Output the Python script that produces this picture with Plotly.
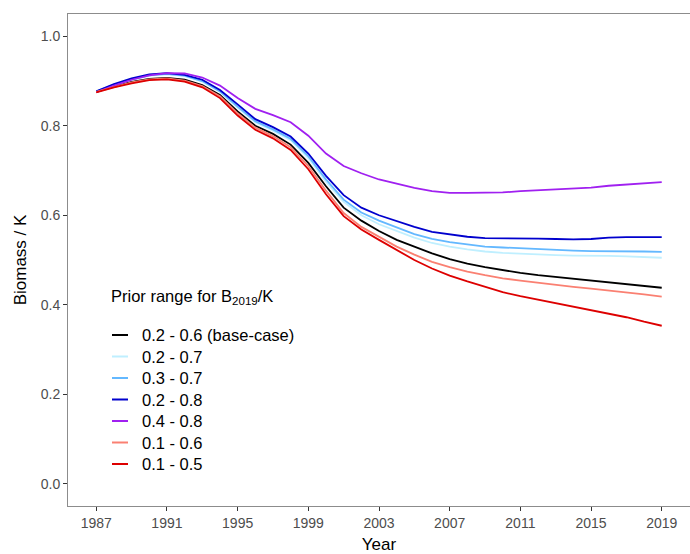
import plotly.graph_objects as go

years = list(range(1987, 2020))

base_02_06 = [.876, .888, .898, .905, .907, .903, .891, .869, .832, .800, .782, .758, .717, .665, .617, .588,
              .565, .545, .530, .515, .502, .492, .484, .477, .471, .466, .462, .458, .455, .451, .447, .442, .438]
s_02_07 = [.877, .891, .903, .912, .915, .911, .899, .876, .841, .808, .789, .768, .728, .675, .630, .600,
           .580, .565, .550, .538, .530, .524, .519, .516, .514, .512, .511, .510, .510, .509, .508, .506, .505]
s_03_07 = [.877, .892, .904, .913, .916, .912, .900, .877, .843, .810, .792, .771, .732, .680, .635, .606,
           .588, .573, .558, .547, .540, .535, .530, .528, .526, .524, .522, .521, .520, .520, .520, .519, .518]
s_02_08 = [.877, .893, .906, .915, .918, .914, .903, .880, .848, .815, .797, .776, .738, .688, .645, .617,
           .600, .587, .574, .563, .557, .552, .549, .549, .549, .548, .547, .546, .547, .550, .551, .551, .551]
s_04_08 = [.875, .890, .903, .913, .918, .917, .908, .890, .862, .838, .824, .808, .778, .738, .710, .694,
           .680, .670, .661, .654, .650, .650, .650, .651, .654, .656, .658, .659, .662, .666, .669, .671, .674]
s_01_06 = [.876, .887, .897, .904, .906, .901, .889, .866, .828, .796, .777, .752, .710, .655, .605, .574,
           .552, .530, .512, .496, .484, .474, .466, .459, .454, .449, .444, .440, .436, .432, .428, .423, .418]
s_01_05 = [.875, .886, .895, .902, .904, .899, .886, .862, .823, .791, .772, .746, .703, .647, .598, .568,
           .545, .522, .500, .481, .465, .452, .440, .428, .419, .411, .403, .395, .387, .380, .372, .362, .353]

series_names = ["0.2 - 0.6 (base-case)", "0.2 - 0.7", "0.3 - 0.7", "0.2 - 0.8", "0.4 - 0.8", "0.1 - 0.6", "0.1 - 0.5"]
series_values = [base_02_06, s_02_07, s_03_07, s_02_08, s_04_08, s_01_06, s_01_05]
series_colors = ["#000000", "#BFEFFF", "#63B8FF", "#0000CD", "#A020F0", "#FA8072", "#DD0000"]

legend_title = "Prior range for B<sub>2019</sub>/K"

x_ticks = [1987, 1991, 1995, 1999, 2003, 2007, 2011, 2015, 2019]
y_ticks = [0.0, 0.2, 0.4, 0.6, 0.8, 1.0]

# layout geometry (pixels)
W, H = 690, 554
ML, MR, MT, MB = 68, 0, 14, 48
PW, PH = W - ML - MR, H - MT - MB


def px_x(p):
    return (p - ML) / PW


def px_y(p):
    return (H - MB - p) / PH


fig = go.Figure()
for name, vals, col in zip(series_names, series_values, series_colors):
    fig.add_trace(go.Scatter(x=years, y=vals, mode="lines", name=name,
                             line=dict(color=col, width=1.8), showlegend=False))

# hand-placed legend (matches the reference's tight spacing)
annotations = [dict(text=legend_title, xref="paper", yref="paper",
                    x=px_x(109), y=px_y(297), xanchor="left", yanchor="middle",
                    showarrow=False, font=dict(size=16.5, color="#000000"))]
shapes = []
row0, step = 335, 21.5
for i, (name, col) in enumerate(zip(series_names, series_colors)):
    yy = px_y(row0 + i * step)
    shapes.append(dict(type="line", xref="paper", yref="paper",
                       x0=px_x(112), x1=px_x(128), y0=yy, y1=yy,
                       line=dict(color=col, width=2)))
    annotations.append(dict(text=name, xref="paper", yref="paper",
                            x=px_x(140), y=yy, xanchor="left", yanchor="middle",
                            showarrow=False, font=dict(size=16.5, color="#000000")))

fig.update_layout(
    width=W, height=H,
    margin=dict(l=ML, r=MR, t=MT, b=MB),
    paper_bgcolor="white", plot_bgcolor="white",
    font=dict(family="Liberation Sans, Arial, sans-serif", color="#000000"),
    showlegend=False,
    annotations=annotations,
    shapes=shapes,
    xaxis=dict(
        range=[1985.4, 2020.6], tickvals=x_ticks, ticktext=[str(v) for v in x_ticks],
        showgrid=False, zeroline=False, showline=True, mirror=True, linecolor="#8C8C8C", linewidth=1,
        ticks="outside", ticklen=4, tickcolor="#333333",
        tickfont=dict(size=14, color="#4D4D4D"),
        title=dict(text="Year", font=dict(size=17), standoff=9),
    ),
    yaxis=dict(
        range=[-0.05, 1.05], tickvals=y_ticks, ticktext=[f"{v:.1f}" for v in y_ticks],
        showgrid=False, zeroline=False, showline=True, mirror=False, linecolor="#8C8C8C", linewidth=1,
        ticks="outside", ticklen=4, tickcolor="#333333",
        tickfont=dict(size=14, color="#4D4D4D"),
        title=dict(text="Biomass / K", font=dict(size=17), standoff=9),
    ),
)

fig.write_html("out.html")
